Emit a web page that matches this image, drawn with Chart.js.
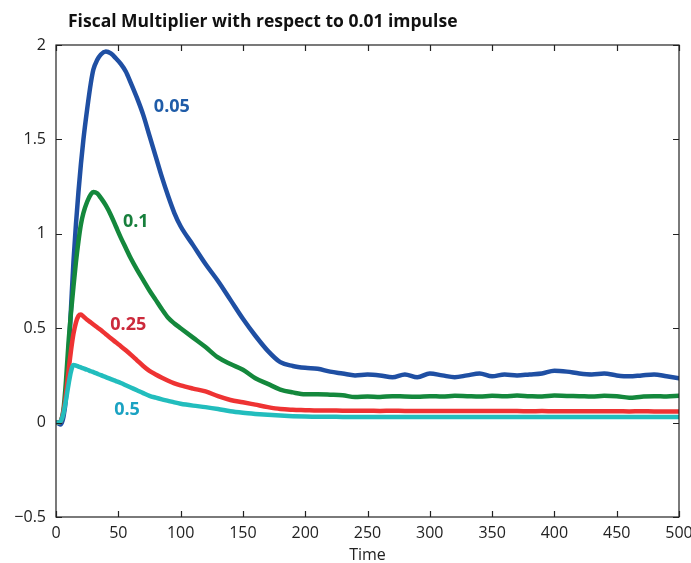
<!DOCTYPE html>
<html>
<head>
<meta charset="utf-8">
<script src="https://cdn.jsdelivr.net/npm/chart.js@4.4.1/dist/chart.umd.min.js"></script>
<style>
  html, body { margin: 0; padding: 0; background: #fff; }
  #wrap { width: 691px; height: 563px; }
</style>
</head>
<body>
<div id="wrap"><canvas id="myChart" width="691" height="563"></canvas></div>
<script>
// time points
const times = [1, 2, 4, 6, 8, 10, 12, 14, 16, 18, 20, 22, 25, 28, 30, 33, 36, 40, 44, 48, 52, 56, 60, 65, 70, 75, 80, 85, 90, 95, 100,
  110, 120, 130, 140, 150, 160, 170, 180, 190, 200, 210, 220, 230, 240, 250, 260, 270, 280, 290, 300,
  310, 320, 330, 340, 350, 360, 370, 380, 390, 400, 410, 420, 430, 440, 450, 460, 470, 480, 490, 500];

const blue = [0, -0.005, -0.01, 0.03, 0.13, 0.35, 0.6, 0.85, 1.05, 1.22, 1.37, 1.5, 1.66, 1.8, 1.87, 1.92, 1.95, 1.965, 1.955, 1.93, 1.9, 1.86, 1.8, 1.72, 1.63, 1.52, 1.41, 1.3, 1.2, 1.11, 1.04,
  0.94, 0.84, 0.75, 0.65, 0.55, 0.46, 0.38, 0.32, 0.3, 0.29, 0.285, 0.27, 0.26, 0.25, 0.255, 0.25, 0.24, 0.255, 0.24, 0.26,
  0.25, 0.24, 0.25, 0.26, 0.245, 0.255, 0.25, 0.255, 0.26, 0.275, 0.27, 0.26, 0.255, 0.26, 0.25, 0.245, 0.25, 0.255, 0.245, 0.235];

const green = [0, 0, 0.01, 0.07, 0.22, 0.42, 0.58, 0.72, 0.85, 0.96, 1.05, 1.11, 1.17, 1.21, 1.222, 1.215, 1.19, 1.15, 1.1, 1.04, 0.98, 0.925, 0.87, 0.81, 0.755, 0.7, 0.65, 0.6, 0.555, 0.525, 0.5,
  0.45, 0.4, 0.345, 0.31, 0.28, 0.235, 0.205, 0.175, 0.16, 0.15, 0.15, 0.148, 0.145, 0.135, 0.138, 0.136, 0.14, 0.138, 0.137, 0.14,
  0.138, 0.142, 0.14, 0.138, 0.142, 0.14, 0.143, 0.14, 0.138, 0.143, 0.141, 0.14, 0.138, 0.142, 0.14, 0.132, 0.137, 0.14, 0.138, 0.142];

const red = [0, 0, 0.01, 0.06, 0.15, 0.27, 0.38, 0.47, 0.53, 0.565, 0.572, 0.562, 0.545, 0.53, 0.52, 0.505, 0.49, 0.468, 0.447, 0.425, 0.405, 0.383, 0.36, 0.33, 0.3, 0.274, 0.255, 0.238, 0.222, 0.208, 0.197,
  0.18, 0.165, 0.14, 0.12, 0.108, 0.095, 0.082, 0.072, 0.068, 0.066, 0.064, 0.064, 0.063, 0.063, 0.063, 0.062, 0.063, 0.062, 0.062, 0.062,
  0.062, 0.061, 0.062, 0.061, 0.061, 0.061, 0.061, 0.06, 0.061, 0.06, 0.06, 0.06, 0.06, 0.06, 0.06, 0.059, 0.06, 0.059, 0.059, 0.059];

const cyan = [0, 0, 0.01, 0.05, 0.12, 0.2, 0.27, 0.305, 0.302, 0.297, 0.292, 0.287, 0.28, 0.272, 0.267, 0.259, 0.251, 0.241, 0.23, 0.22, 0.21, 0.198, 0.186, 0.171, 0.156, 0.142, 0.132, 0.123, 0.115, 0.107, 0.1,
  0.09, 0.082, 0.072, 0.06, 0.052, 0.046, 0.041, 0.037, 0.034, 0.032, 0.031, 0.031, 0.03, 0.03, 0.03, 0.03, 0.03, 0.03, 0.03, 0.03,
  0.03, 0.03, 0.03, 0.03, 0.03, 0.03, 0.03, 0.03, 0.03, 0.03, 0.03, 0.03, 0.03, 0.03, 0.03, 0.03, 0.03, 0.03, 0.03, 0.03];

const xTicks = [0, 50, 100, 150, 200, 250, 300, 350, 400, 450, 500];
const yTicks = [-0.5, 0, 0.5, 1, 1.5, 2];

// curve labels: text, time, value, colour
const curveLabels = [
  { text: '0.05', t: 93, v: 1.674, color: '#1f5ca8' },
  { text: '0.1', t: 64, v: 1.065, color: '#177f3c' },
  { text: '0.25', t: 58, v: 0.52, color: '#cc2a3c' },
  { text: '0.5', t: 57, v: 0.069, color: '#1aa2c2' }
];

function pts(vals) {
  return times.map((t, i) => ({ x: t, y: vals[i] }));
}

const FONT = "'Open Sans', 'Noto Sans', sans-serif";

const framePlugin = {
  id: 'frame',
  afterDatasetsDraw(chart) {
    const { ctx, chartArea: a, scales } = chart;
    ctx.save();
    ctx.strokeStyle = '#222';
    ctx.lineWidth = 1.2;
    ctx.strokeRect(a.left, a.top, a.right - a.left, a.bottom - a.top);
    const len = 6;
    ctx.beginPath();
    xTicks.forEach(v => {
      const x = Math.round(scales.x.getPixelForValue(v)) + 0.5;
      ctx.moveTo(x, a.bottom); ctx.lineTo(x, a.bottom - len);
      ctx.moveTo(x, a.top); ctx.lineTo(x, a.top + len);
    });
    yTicks.forEach(v => {
      const y = Math.round(scales.y.getPixelForValue(v)) + 0.5;
      ctx.moveTo(a.left, y); ctx.lineTo(a.left + len, y);
      ctx.moveTo(a.right, y); ctx.lineTo(a.right - len, y);
    });
    ctx.stroke();

    // curve labels
    ctx.font = "bold 18px " + FONT;
    ctx.textAlign = 'center';
    ctx.textBaseline = 'middle';
    curveLabels.forEach(l => {
      ctx.fillStyle = l.color;
      ctx.fillText(l.text, scales.x.getPixelForValue(l.t), scales.y.getPixelForValue(l.v));
    });

    // title
    ctx.fillStyle = '#111';
    ctx.font = "bold 17.5px " + FONT;
    ctx.textAlign = 'left';
    ctx.textBaseline = 'alphabetic';
    ctx.fillText('Fiscal Multiplier with respect to 0.01 impulse', 68, 27);

    // axis name
    ctx.fillStyle = '#222';
    ctx.font = "16px " + FONT;
    ctx.textAlign = 'center';
    ctx.textBaseline = 'middle';
    ctx.fillText('Time', (a.left + a.right) / 2, 555);
    ctx.restore();
  }
};

const ctx = document.getElementById('myChart');
new Chart(ctx,
{
  type: 'line',
  data:
  {
    datasets:
    [
      { label: '0.5', data: pts(cyan), borderColor: '#22bdbd' },
      { label: '0.25', data: pts(red), borderColor: '#ee3333' },
      { label: '0.1', data: pts(green), borderColor: '#14883c' },
      { label: '0.05', data: pts(blue), borderColor: '#1f4fa3' }
    ].map(d => Object.assign(d, { borderWidth: 4.5, pointRadius: 0, cubicInterpolationMode: 'monotone', fill: false, borderJoinStyle: 'round', borderCapStyle: 'round' }))
  },
  options:
  {
    responsive: false,
    animation: false,
    layout: { padding: { left: 0, right: 12, top: 45, bottom: 0 } },
    plugins: { legend: { display: false }, tooltip: { enabled: false }, title: { display: false } },
    scales:
    {
      x: {
        type: 'linear', min: 0, max: 500,
        grid: { display: false, drawTicks: false },
        border: { display: false },
        afterBuildTicks: s => { s.ticks = xTicks.map(v => ({ value: v })); },
        afterFit: s => { s.height = 46; s.paddingLeft = 0; s.paddingRight = 0; },
        ticks: { padding: 7, color: '#222', font: { family: FONT, size: 16 }, maxRotation: 0, autoSkip: false }
      },
      y: {
        min: -0.5, max: 2,
        grid: { display: false, drawTicks: false },
        border: { display: false },
        afterBuildTicks: s => { s.ticks = yTicks.map(v => ({ value: v })); },
        afterFit: s => { s.width = 56; s.paddingTop = 0; s.paddingBottom = 0; },
        ticks: {
          padding: 10, color: '#222', font: { family: FONT, size: 16 },
          callback: v => v < 0 ? '\u2212' + String(-v) : String(v)
        }
      }
    }
  },
  plugins: [framePlugin]
});
</script>
</body>
</html>
